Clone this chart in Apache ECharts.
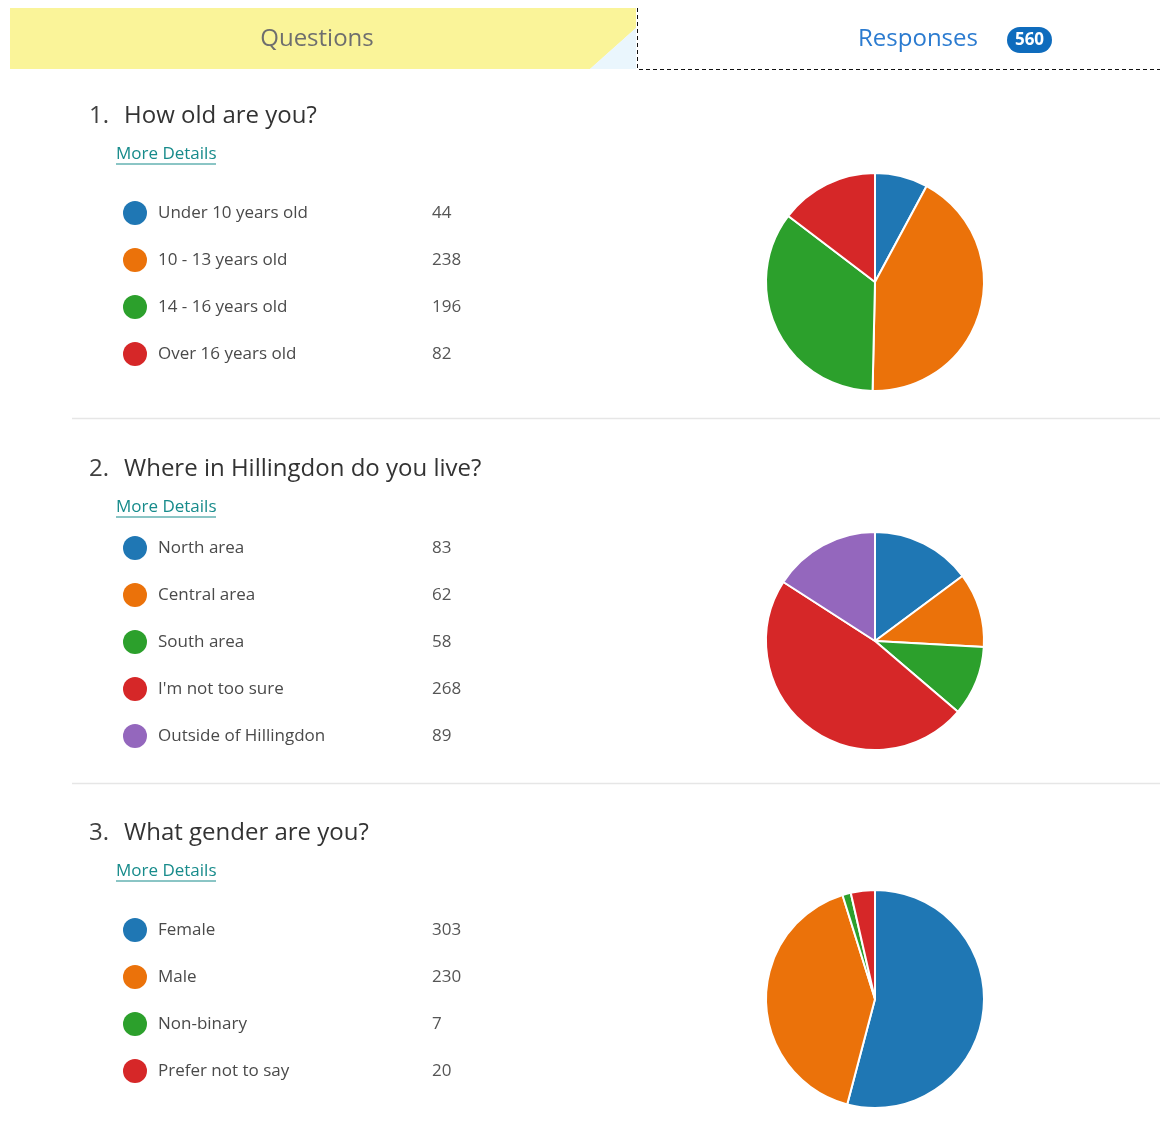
<!DOCTYPE html>
<html>
<head>
<meta charset="utf-8">
<script src="https://cdn.jsdelivr.net/npm/echarts@6/dist/echarts.min.js"></script>
<style>
  html, body { margin: 0; padding: 0; background: #fff; }
  #main { width: 1160px; height: 1128px; }
</style>
</head>
<body>
<div id="main"></div>
<script>
var chart = echarts.init(document.getElementById("main"));

var FONT = '"Open Sans", "Noto Sans", sans-serif';

// 问卷数据
var totalResponses = 560;
var questionTitles = ['How old are you?', 'Where in Hillingdon do you live?', 'What gender are you?'];

var ageNames = ['Under 10 years old', '10 - 13 years old', '14 - 16 years old', 'Over 16 years old'];
var ageValues = [44, 238, 196, 82];

var areaNames = ['North area', 'Central area', 'South area', "I'm not too sure", 'Outside of Hillingdon'];
var areaValues = [83, 62, 58, 268, 89];

var genderNames = ['Female', 'Male', 'Non-binary', 'Prefer not to say'];
var genderValues = [303, 230, 7, 20];

var palette = ['#1f77b4', '#eb720a', '#2ca02c', '#d62728', '#9467bd'];

// 每个问题的位置
var blocks = [
    { names: ageNames, values: ageValues, titleY: 116, legendTop: 201, pieY: 282 },
    { names: areaNames, values: areaValues, titleY: 469, legendTop: 536, pieY: 641 },
    { names: genderNames, values: genderValues, titleY: 833, legendTop: 918, pieY: 999 }
];

function toData(names, values) {
    var arr = [];
    for (var i = 0; i < names.length; i++) {
        arr.push({ name: names[i], value: values[i], itemStyle: { color: palette[i] } });
    }
    return arr;
}

var graphics = [
    // 顶部标签
    { type: 'polygon', shape: { points: [[10, 8], [636, 8], [636, 28], [590, 69], [10, 69]] }, style: { fill: '#faf499' } },
    { type: 'polygon', shape: { points: [[636, 28], [636, 69], [590, 69]] }, style: { fill: '#eaf6fd' } },
    { type: 'polyline', shape: { points: [[637.5, 8], [637.5, 69.5], [1160, 69.5]] },
      style: { stroke: '#111', lineWidth: 1, lineDash: [4, 3], fill: null } },
    { type: 'text', x: 317, y: 39, style: { text: 'Questions', fill: '#6e6e6e', font: '24px ' + FONT, align: 'center', verticalAlign: 'middle' } },
    { type: 'text', x: 918, y: 39, style: { text: 'Responses', fill: '#2b7bd0', font: '24px ' + FONT, align: 'center', verticalAlign: 'middle' } },
    { type: 'rect', shape: { x: 1007, y: 27, width: 45, height: 26, r: 13 }, style: { fill: '#0f6cbd' } },
    { type: 'text', x: 1029.5, y: 40.5, style: { text: String(totalResponses), fill: '#fff', font: 'bold 17px ' + FONT, align: 'center', verticalAlign: 'middle' } },
    // 分隔线
    { type: 'line', shape: { x1: 72, y1: 418.5, x2: 1160, y2: 418.5 }, style: { stroke: '#e6e6e6', lineWidth: 1.5 } },
    { type: 'line', shape: { x1: 72, y1: 783.5, x2: 1160, y2: 783.5 }, style: { stroke: '#e6e6e6', lineWidth: 1.5 } }
];

var legends = [];
var series = [];

blocks.forEach(function (b, k) {
    graphics.push({ type: 'text', x: 89, y: b.titleY, style: { text: (k + 1) + '.', fill: '#404040', font: '24px ' + FONT, verticalAlign: 'middle' } });
    graphics.push({ type: 'text', x: 124, y: b.titleY, style: { text: questionTitles[k], fill: '#333', font: '24px ' + FONT, verticalAlign: 'middle' } });
    graphics.push({ type: 'text', x: 116, y: b.titleY + 38, style: { text: 'More Details', fill: '#178b8b', font: '17px ' + FONT, verticalAlign: 'middle' } });
    graphics.push({ type: 'line', shape: { x1: 116, y1: b.titleY + 48, x2: 216, y2: b.titleY + 48 }, style: { stroke: '#178b8b', lineWidth: 1 } });

    legends.push({
        data: b.names,
        orient: 'vertical',
        left: 123,
        top: b.legendTop,
        padding: 0,
        icon: 'circle',
        itemWidth: 24,
        itemHeight: 24,
        itemGap: 23,
        selectedMode: false,
        itemStyle: { borderWidth: 0 },
        formatter: function (name) {
            var idx = b.names.indexOf(name);
            return '{n|' + name + '}{v|' + b.values[idx] + '}';
        },
        textStyle: {
            padding: [0, 0, 0, 6],
            rich: {
                n: { width: 274, fontSize: 17, fontFamily: FONT, color: '#4a4a4a' },
                v: { fontSize: 17, fontFamily: FONT, color: '#555' }
            }
        }
    });

    series.push({
        name: questionTitles[k],
        type: 'pie',
        radius: 109,
        center: [875, b.pieY],
        startAngle: 90,
        clockwise: true,
        label: { show: false },
        labelLine: { show: false },
        silent: true,
        animation: false,
        itemStyle: { borderColor: '#fff', borderWidth: 2 },
        data: toData(b.names, b.values)
    });
});

var option = {
    backgroundColor: '#fff',
    animation: false,
    graphic: graphics,
    legend: legends,
    series: series
};

chart.setOption(option);
</script>
</body>
</html>
